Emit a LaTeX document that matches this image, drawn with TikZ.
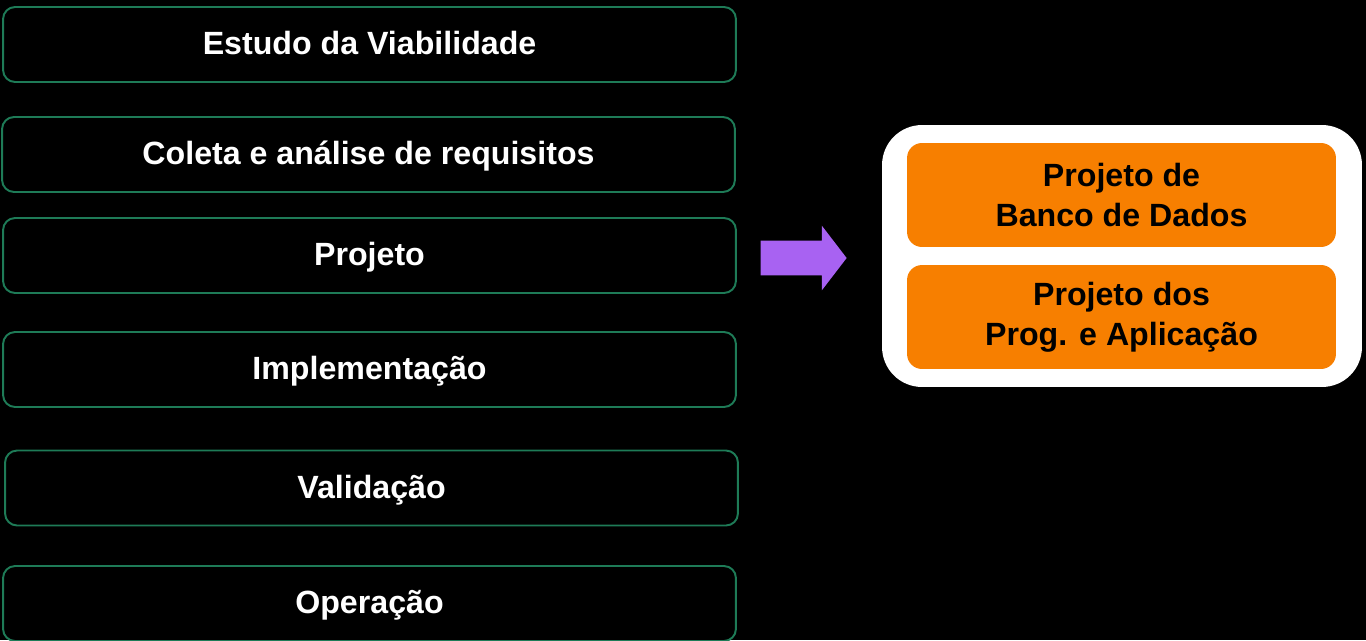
\documentclass[tikz,border=0pt]{standalone}
\usepackage{fontspec}
\setmainfont{Liberation Sans}
\usetikzlibrary{shapes.arrows}
\definecolor{faseverde}{HTML}{1E7B57}
\definecolor{laranja}{HTML}{F77F00}
\definecolor{roxo}{HTML}{A862F2}

\begin{document}
\begin{tikzpicture}[x=0.02cm,y=-0.02cm,
		fase/.style={draw=faseverde,line width=1.1pt,rounded corners=0.24cm,
			minimum width=14.66cm,minimum height=1.5cm,text=white,
			text height=12.4pt,text depth=0.5pt,
			font=\bfseries\fontsize{18.3}{22}\selectfont},
		subfase/.style={fill=laranja,rounded corners=0.3cm,
			minimum width=8.58cm,minimum height=2.08cm,align=center,text=black,
			font=\bfseries\fontsize{18.3}{22.7}\selectfont},
		seta/.style={single arrow,fill=roxo,inner xsep=0pt,inner ysep=0.34cm,
			single arrow head extend=0.3cm,single arrow head indent=0pt,
			single arrow tip angle=105,minimum height=1.72cm}
		]
		\fill[black] (0,0) rectangle (1366,640);
		\useasboundingbox (0,0) rectangle (1366,640);
		% etapas do ciclo
		\node[fase] (estudo) at (369.5,44.5) {Estudo da Viabilidade};
		\node[fase] (coleta) at (368.5,154.5) {Coleta e análise de requisitos};
		\node[fase] (projeto) at (369.5,255.5) {Projeto};
		\node[fase] (impl) at (369.5,369.5) {Implementação};
		\node[fase] (valid) at (371.5,488) {Validação};
		\node[fase] (oper) at (369.5,603.5) {Operação};
		% detalhe do projeto
		\node[seta] (seta) at (797,258) {};
		\node[fill=white,rounded corners=0.8cm,minimum width=9.6cm,minimum height=5.24cm] (detalhe) at (1122,256) {};
		\node[subfase] (bd) at (1121.5,195) {Projeto de\\Banco de Dados};
		\node[subfase] (prog) at (1121.5,317) {Projeto dos\\Prog. e Aplicação};
\end{tikzpicture}
\end{document}
